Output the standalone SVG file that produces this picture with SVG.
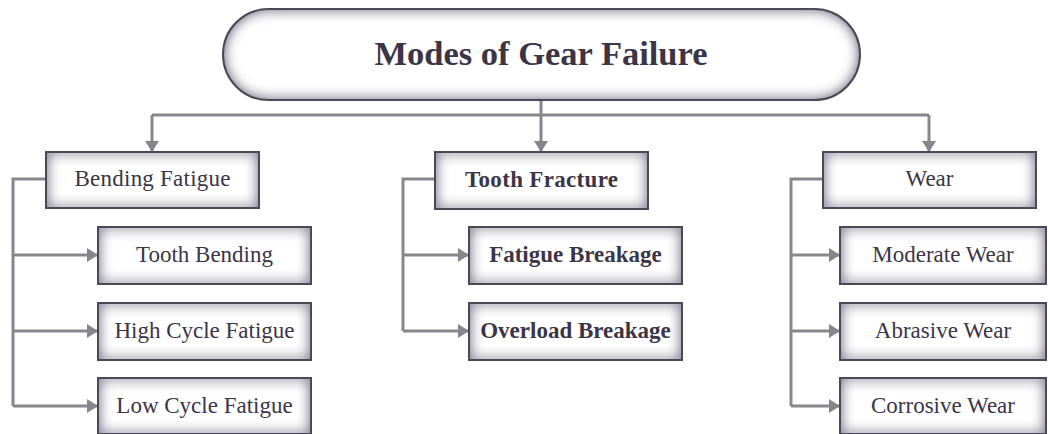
<svg xmlns="http://www.w3.org/2000/svg" width="1048" height="434" viewBox="0 0 1048 434">
  <defs>
    <!-- soft inner shading towards the edges of each box -->
    <filter id="inset" x="-5%" y="-10%" width="110%" height="120%">
      <feFlood flood-color="#6f6a88" result="tint"/>
      <feComposite in="tint" in2="SourceAlpha" operator="out" result="outside"/>
      <feGaussianBlur in="outside" stdDeviation="7" result="soft"/>
      <feComposite in="soft" in2="SourceAlpha" operator="in" result="inner"/>
      <feMerge>
        <feMergeNode in="SourceGraphic"/>
        <feMergeNode in="inner"/>
        <feMergeNode in="inner"/>
      </feMerge>
    </filter>
    <marker id="arrow" markerUnits="userSpaceOnUse" markerWidth="12" markerHeight="14" viewBox="0 0 12 14" refX="11" refY="7" orient="auto">
      <path d="M0,0 L11,7 L0,14 Z" fill="#85858c"/>
    </marker>
  </defs>
  <style>
    .box { fill: #ffffff; filter: url(#inset); }
    .edge { fill: none; stroke: #4b4858; stroke-width: 2; }
    text { font-family: 'Liberation Serif', 'Times New Roman', serif; fill: #3b3547; text-anchor: middle; }
    .lbl { font-size: 23px; }
    .b { font-weight: bold; }
    .title { font-size: 34.5px; font-weight: bold; }
    .wire { fill: none; stroke: #87878d; stroke-width: 3; }
    .tip { fill: none; stroke: #87878d; stroke-width: 3; marker-end: url(#arrow); }
  </style>

  <rect width="1048" height="434" fill="#ffffff"/>

  <!-- connectors -->
  <g id="connectors">
    <!-- root to the three families -->
    <path class="wire" d="M152,115 L929,115"/>
    <path class="tip" d="M541,100 L541,152"/>
    <path class="tip" d="M152,115 L152,152"/>
    <path class="tip" d="M929,115 L929,152"/>
    <!-- bending fatigue branch -->
    <path class="wire" d="M46,179 L13,179 L13,406"/>
    <path class="tip" d="M13,255 L98,255"/>
    <path class="tip" d="M13,331 L98,331"/>
    <path class="tip" d="M13,406 L98,406"/>
    <!-- tooth fracture branch -->
    <path class="wire" d="M435,179 L403,179 L403,331"/>
    <path class="tip" d="M403,255 L469,255"/>
    <path class="tip" d="M403,331 L469,331"/>
    <!-- wear branch -->
    <path class="wire" d="M823,179 L791,179 L791,406"/>
    <path class="tip" d="M791,255 L840,255"/>
    <path class="tip" d="M791,331 L840,331"/>
    <path class="tip" d="M791,406 L840,406"/>
  </g>

  <g id="root">
    <rect class="box" x="223" y="9" width="637" height="91" rx="45.5"/>
    <rect class="edge" x="223" y="9" width="637" height="91" rx="45.5"/>
    <text class="title" x="541" y="65">Modes of Gear Failure</text>
  </g>

  <g id="bending-fatigue">
    <rect class="box" x="46" y="152" width="213" height="56"/>
    <rect class="edge" x="46" y="152" width="213" height="56"/>
    <text class="lbl" x="152.5" y="186" textLength="156">Bending Fatigue</text>
  </g>
  <g id="tooth-bending">
    <rect class="box" x="98" y="227" width="213" height="57"/>
    <rect class="edge" x="98" y="227" width="213" height="57"/>
    <text class="lbl" x="204.5" y="262">Tooth Bending</text>
  </g>
  <g id="high-cycle-fatigue">
    <rect class="box" x="98" y="303" width="213" height="57"/>
    <rect class="edge" x="98" y="303" width="213" height="57"/>
    <text class="lbl" x="204.5" y="338">High Cycle Fatigue</text>
  </g>
  <g id="low-cycle-fatigue">
    <rect class="box" x="98" y="378" width="213" height="56"/>
    <rect class="edge" x="98" y="378" width="213" height="56"/>
    <text class="lbl" x="204.5" y="413">Low Cycle Fatigue</text>
  </g>

  <g id="tooth-fracture">
    <rect class="box" x="435" y="152" width="213" height="57"/>
    <rect class="edge" x="435" y="152" width="213" height="57"/>
    <text class="lbl b" x="541.5" y="187" textLength="153">Tooth Fracture</text>
  </g>
  <g id="fatigue-breakage">
    <rect class="box" x="469" y="227" width="213" height="57"/>
    <rect class="edge" x="469" y="227" width="213" height="57"/>
    <text class="lbl b" x="575.5" y="262">Fatigue Breakage</text>
  </g>
  <g id="overload-breakage">
    <rect class="box" x="469" y="303" width="213" height="57"/>
    <rect class="edge" x="469" y="303" width="213" height="57"/>
    <text class="lbl b" x="575.5" y="338">Overload Breakage</text>
  </g>

  <g id="wear">
    <rect class="box" x="823" y="152" width="213" height="56"/>
    <rect class="edge" x="823" y="152" width="213" height="56"/>
    <text class="lbl" x="929.5" y="186">Wear</text>
  </g>
  <g id="moderate-wear">
    <rect class="box" x="840" y="227" width="206" height="57"/>
    <rect class="edge" x="840" y="227" width="206" height="57"/>
    <text class="lbl" x="943" y="262">Moderate Wear</text>
  </g>
  <g id="abrasive-wear">
    <rect class="box" x="840" y="303" width="206" height="57"/>
    <rect class="edge" x="840" y="303" width="206" height="57"/>
    <text class="lbl" x="943" y="338">Abrasive Wear</text>
  </g>
  <g id="corrosive-wear">
    <rect class="box" x="840" y="378" width="206" height="56"/>
    <rect class="edge" x="840" y="378" width="206" height="56"/>
    <text class="lbl" x="943" y="413">Corrosive Wear</text>
  </g>
</svg>
